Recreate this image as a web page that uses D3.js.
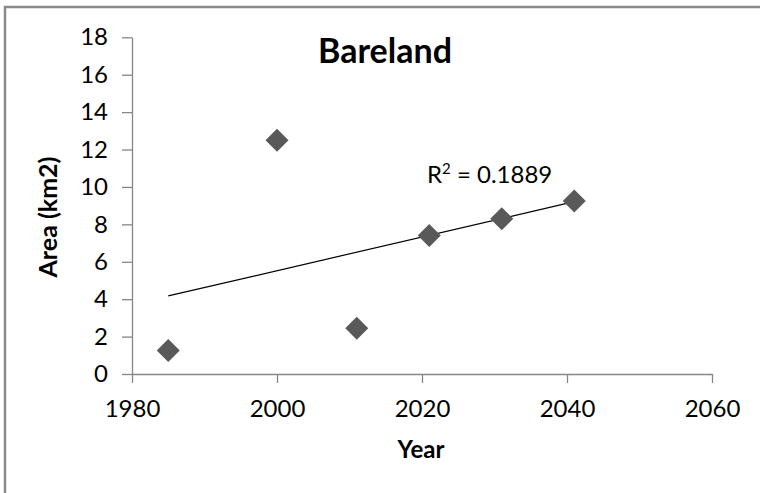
<!DOCTYPE html>
<html>
<head>
<meta charset="utf-8">
<script src="https://cdn.jsdelivr.net/npm/d3@7"></script>
<style>
  body { margin: 0; background: #fff; }
  svg { display: block; font-family: Lato, 'Open Sans', sans-serif; }
</style>
</head>
<body>
<div id="chart"></div>
<script>
// data
const years = [1985, 2000, 2011, 2021, 2031, 2041];
const areas = [1.25, 12.5, 2.45, 7.4, 8.3, 9.25];
const xTicks = [1980, 2000, 2020, 2040, 2060];
const yTicks = [0, 2, 4, 6, 8, 10, 12, 14, 16, 18];
const r2Label = '0.1889';

const width = 760;
const height = 493;

const svg = d3.select('#chart')
  .append('svg')
  .attr('width', width)
  .attr('height', height);

// outer chart frame (runs off the right and bottom edge)
svg.append('path')
  .attr('d', 'M5,493 V7 H760')
  .attr('fill', 'none')
  .attr('stroke', '#8a8a8a')
  .attr('stroke-width', 2.5);

const x = d3.scaleLinear().domain([1980, 2060]).range([132, 712]);
const y = d3.scaleLinear().domain([0, 18]).range([374, 37.3]);

// y axis
const yAxis = svg.append('g')
  .attr('transform', 'translate(132,0)')
  .call(d3.axisLeft(y).tickValues(yTicks).tickSize(10).tickSizeOuter(0).tickPadding(14));

// x axis
const xAxis = svg.append('g')
  .attr('transform', 'translate(0,374)')
  .call(d3.axisBottom(x).tickValues(xTicks).tickFormat(d3.format('d')).tickSize(9).tickSizeOuter(0).tickPadding(17));

[yAxis, xAxis].forEach(function (g) {
  g.select('.domain').attr('stroke', '#868686').attr('stroke-width', 1.3);
  g.selectAll('.tick line').attr('stroke', '#868686').attr('stroke-width', 1.3);
  g.selectAll('.tick text')
    .attr('fill', '#000')
    .style('font-size', '24px')
    .style('font-family', 'Lato, sans-serif');
});

// linear trend line from least squares fit
const mx = d3.mean(years);
const my = d3.mean(areas);
const sxy = d3.sum(years, (d, i) => (d - mx) * (areas[i] - my));
const sxx = d3.sum(years, d => (d - mx) * (d - mx));
const slope = sxy / sxx;
const intercept = my - slope * mx;
const trendX = d3.extent(years);

svg.append('line')
  .attr('x1', x(trendX[0]))
  .attr('y1', y(intercept + slope * trendX[0]))
  .attr('x2', x(trendX[1]))
  .attr('y2', y(intercept + slope * trendX[1]))
  .attr('stroke', '#000')
  .attr('stroke-width', 1.2);

// diamond markers
const diamond = d3.symbol().type(d3.symbolSquare).size(11.5 * 11.5 * 2);
svg.append('g')
  .selectAll('path')
  .data(years)
  .join('path')
  .attr('d', diamond)
  .attr('transform', (d, i) => `translate(${x(d)},${y(areas[i])}) rotate(45)`)
  .attr('fill', '#595959');

// R squared label
const r2 = svg.append('text')
  .attr('x', 427)
  .attr('y', 183)
  .style('font-size', '24px')
  .attr('fill', '#000');
r2.append('tspan').text('R');
r2.append('tspan').text('2').attr('dy', -9).style('font-size', '15px');
r2.append('tspan').text(' = ' + r2Label).attr('dy', 9);

// title
svg.append('text')
  .attr('x', 385)
  .attr('y', 63)
  .attr('text-anchor', 'middle')
  .style('font-size', '34px')
  .style('font-weight', 'bold')
  .text('Bareland');

// axis titles
svg.append('text')
  .attr('x', 421)
  .attr('y', 458)
  .attr('text-anchor', 'middle')
  .style('font-size', '24px')
  .style('font-weight', 'bold')
  .text('Year');

svg.append('text')
  .attr('transform', 'translate(57,217) rotate(-90)')
  .attr('text-anchor', 'middle')
  .style('font-size', '25px')
  .style('font-weight', 'bold')
  .text('Area (km2)');
</script>
</body>
</html>
